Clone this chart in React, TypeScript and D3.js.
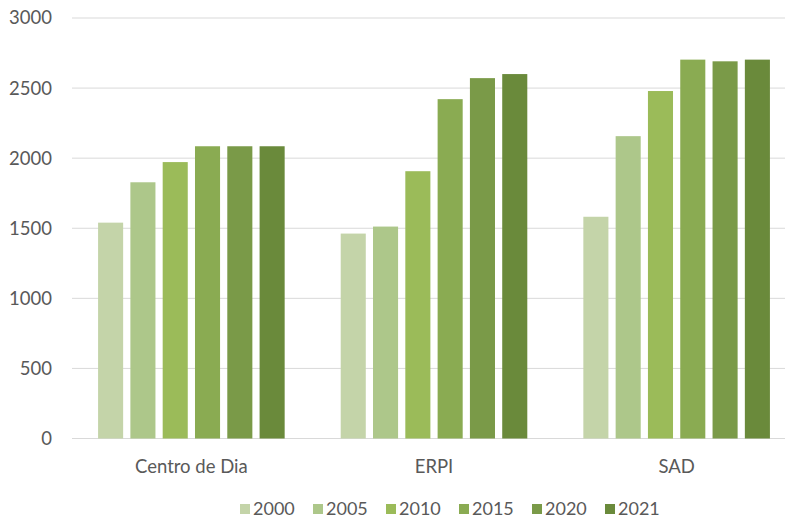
import React from "react";
import * as d3 from "d3";

const categories = ["Centro de Dia", "ERPI", "SAD"];
const years = ["2000", "2005", "2010", "2015", "2020", "2021"];
const centroDeDia = [1540, 1828, 1972, 2085, 2085, 2085];
const erpi = [1462, 1512, 1907, 2421, 2571, 2600];
const sad = [1582, 2157, 2479, 2703, 2691, 2703];
const yTicks = [0, 500, 1000, 1500, 2000, 2500, 3000];
const colors = ["#c4d4a9", "#adc78a", "#9bbb59", "#8aab52", "#7a9a48", "#6a8a3b"];

const seriesByCategory = [centroDeDia, erpi, sad];

const W = 787;
const H = 519;
const plotLeft = 72;
const plotRight = 785;
const font = "Lato, 'Open Sans', sans-serif";

export default function App() {
  const y = d3.scaleLinear().domain([0, 3000]).range([438.5, 18]);

  const x0 = d3
    .scaleBand()
    .domain(categories)
    .range([71, 797])
    .paddingInner(0.231)
    .paddingOuter(0.1116);

  const x1 = d3
    .scaleBand()
    .domain(years)
    .range([0, x0.bandwidth()])
    .paddingInner(0.224);

  const legendX = d3.scalePoint().domain(years).range([240, 605]);

  return (
    <svg
      width={W}
      height={H}
      style={{ position: "absolute", left: 0, top: 0, background: "#fff" }}
    >
      {/* gridlines */}
      {yTicks.map((t) => (
        <line
          key={t}
          x1={plotLeft}
          x2={plotRight}
          y1={y(t)}
          y2={y(t)}
          stroke="#d9d9d9"
          strokeWidth={1}
        />
      ))}
      {yTicks.map((t) => (
        <text
          key={"l" + t}
          x={52}
          y={y(t)}
          dy="0.35em"
          textAnchor="end"
          fontFamily={font}
          fontSize={18.5}
          fill="#595959"
        >
          {t}
        </text>
      ))}

      {categories.map((c, ci) => (
        <g key={c} transform={`translate(${x0(c)},0)`}>
          {years.map((yr, i) => (
            <rect
              key={yr}
              x={x1(yr)}
              y={y(seriesByCategory[ci][i])}
              width={x1.bandwidth()}
              height={y(0) - y(seriesByCategory[ci][i])}
              fill={colors[i]}
            />
          ))}
          <text
            x={x0.bandwidth() / 2}
            y={467}
            dy="0.35em"
            textAnchor="middle"
            fontFamily={font}
            fontSize={18.5}
            fill="#595959"
          >
            {c}
          </text>
        </g>
      ))}

      {/* legend */}
      {years.map((yr, i) => (
        <g key={"lg" + yr} transform={`translate(${legendX(yr)},509)`}>
          <rect x={0} y={-5} width={10} height={10} fill={colors[i]} />
          <text
            x={13}
            y={0}
            dy="0.35em"
            fontFamily={font}
            fontSize={18}
            fill="#595959"
          >
            {yr}
          </text>
        </g>
      ))}
    </svg>
  );
}
